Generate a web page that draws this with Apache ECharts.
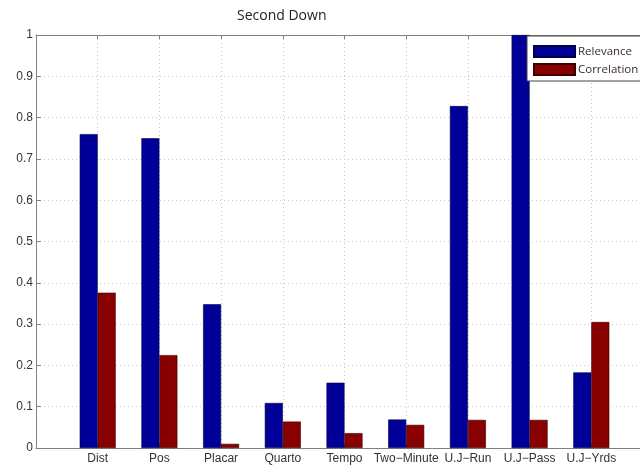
<!DOCTYPE html>
<html>
<head>
<meta charset="utf-8">
<script src="https://cdn.jsdelivr.net/npm/echarts@6/dist/echarts.min.js"></script>
<style>
  html, body { margin: 0; padding: 0; background: #fff; }
  #chart { width: 640px; height: 467px; }
</style>
</head>
<body>
<div id="chart"></div>
<script>
// Feature names, in plotting order (positions 1..9 on the x axis)
const categories = ['Dist', 'Pos', 'Placar', 'Quarto', 'Tempo', 'Two\u2212Minute', 'U.J\u2212Run', 'U.J\u2212Pass', 'U.J\u2212Yrds'];
const relevance   = [0.760, 0.750, 0.348, 0.109, 0.158, 0.069, 0.828, 1.000, 0.183];
const correlation = [0.376, 0.225, 0.010, 0.064, 0.036, 0.056, 0.068, 0.068, 0.305];
const yTicks = [0, 0.1, 0.2, 0.3, 0.4, 0.5, 0.6, 0.7, 0.8, 0.9, 1];

// Bar groups sit at 1..9 on an axis running from 0 to 10; the right end runs past the window
const xMin = 0;
const xMax = 10;

const axisGrey = '#808080';
const labelFont = { fontFamily: 'Liberation Sans, Arial, sans-serif', fontSize: 12, color: '#333' };

const toPoints = arr => arr.map((v, i) => [i + 1, v]);

const chart = echarts.init(document.getElementById('chart'));
chart.setOption({
  animation: false,
  backgroundColor: '#fff',
  title: {
    text: 'Second Down',
    left: 237,
    top: 9,
    padding: 0,
    textStyle: { fontFamily: 'Open Sans, sans-serif', fontSize: 14, fontWeight: 'normal', color: '#222' }
  },
  legend: {
    orient: 'vertical',
    left: 527,
    top: 36,
    padding: [9, 30, 5, 6],
    itemWidth: 41,
    itemHeight: 11,
    itemGap: 5,
    icon: 'rect',
    backgroundColor: '#fff',
    borderColor: '#444',
    borderWidth: 1,
    borderRadius: 0,
    textStyle: { fontFamily: 'Open Sans, sans-serif', fontSize: 11.5, color: '#3a2a2a', padding: [0, 0, 0, -2] },
    data: ['Relevance', 'Correlation']
  },
  grid: { left: 36, top: 35, right: -13, bottom: 19, containLabel: false, outerBoundsMode: 'none' },
  xAxis: [{
    type: 'value',
    min: xMin, max: xMax, interval: 1,
    axisLine: { show: true, lineStyle: { color: axisGrey } },
    axisTick: { show: true, inside: true, length: 4, lineStyle: { color: axisGrey } },
    axisLabel: Object.assign({
      margin: 5,
      formatter: v => (Number.isInteger(v) && v >= 1 && v <= categories.length) ? categories[v - 1] : ''
    }, labelFont),
    splitLine: { show: true, lineStyle: { color: '#c8c8c8', type: [1, 3] } }
  }, {
    type: 'value',
    position: 'top',
    min: xMin, max: xMax, interval: 1,
    axisLine: { show: true, lineStyle: { color: axisGrey } },
    axisTick: { show: true, inside: true, length: 4, lineStyle: { color: axisGrey } },
    axisLabel: { show: false },
    splitLine: { show: false }
  }],
  yAxis: {
    type: 'value',
    min: 0, max: 1, interval: 0.1,
    axisLine: { show: true, lineStyle: { color: axisGrey } },
    axisTick: { show: true, inside: true, length: 5, lineStyle: { color: axisGrey } },
    axisLabel: Object.assign({
      margin: 3,
      formatter: v => {
        const t = yTicks.find(x => Math.abs(x - v) < 1e-9);
        return t === undefined ? '' : String(Math.round(t * 10) / 10);
      }
    }, labelFont),
    splitLine: { show: true, lineStyle: { color: '#c8c8c8', type: [1, 3] } }
  },
  series: [{
    name: 'Relevance',
    type: 'bar',
    xAxisIndex: 0,
    barWidth: 18,
    barGap: '0%',
    itemStyle: { color: '#000098', borderColor: '#000048', borderWidth: 0.6 },
    data: toPoints(relevance)
  }, {
    name: 'Correlation',
    type: 'bar',
    xAxisIndex: 0,
    barWidth: 18,
    barGap: '0%',
    itemStyle: { color: '#880000', borderColor: '#380000', borderWidth: 0.6 },
    data: toPoints(correlation)
  }]
});
</script>
</body>
</html>
